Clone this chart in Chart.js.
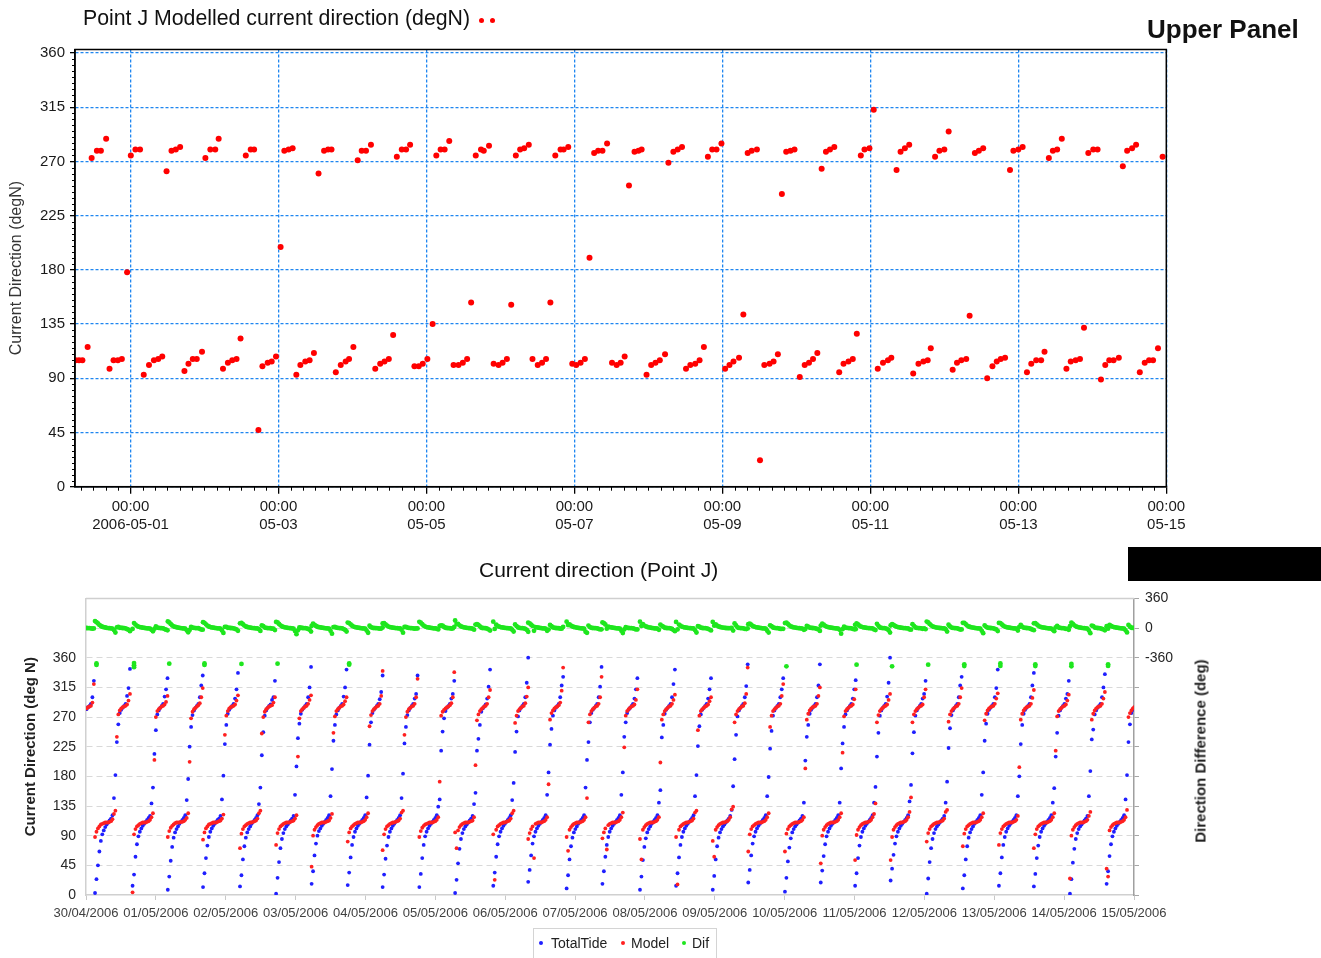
<!DOCTYPE html>
<html>
<head>
<meta charset="utf-8">
<title>Point J current direction</title>
<script src="https://cdn.jsdelivr.net/npm/chart.js@4.4.0/dist/chart.umd.min.js"></script>
<style>
  html, body { margin: 0; padding: 0; background: #fff; }
  body { width: 1321px; height: 958px; position: relative; overflow: hidden;
         font-family: "Liberation Sans", Arial, sans-serif; }
  canvas { position: absolute; }
  .txt { position: absolute; white-space: nowrap; color: #111; }
  .dot { position: absolute; border-radius: 50%; }
</style>
</head>
<body>

<canvas id="upperChart" width="1200" height="545" style="left:0;top:0"></canvas>
<canvas id="lowerChart" width="1321" height="378" style="left:0;top:580px"></canvas>

<div class="txt" style="left:83px;top:6px;font-size:21.3px;line-height:24px">Point J Modelled current direction (degN)</div>
<span class="dot" style="left:479px;top:18px;width:5px;height:5px;background:#f00"></span>
<span class="dot" style="left:490px;top:18px;width:5px;height:5px;background:#f00"></span>
<div class="txt" style="left:1147px;top:14px;font-size:26px;line-height:30px;font-weight:bold">Upper Panel</div>

<div class="txt" style="left:479px;top:558px;font-size:21px;line-height:24px">Current direction (Point J)</div>
<div style="position:absolute;left:1128px;top:547px;width:193px;height:34px;background:#000"></div>

<div class="txt" style="left:1200px;top:751px;font-size:15px;font-weight:bold;color:#222;transform:translate(-50%,-50%) rotate(-90deg)">Direction Difference (deg)</div>

<div style="position:absolute;left:533px;top:928px;width:182px;height:40px;border:1px solid #d4d4d4;font-size:14px;color:#222">
  <span class="dot" style="left:5px;top:12px;width:4px;height:4px;background:#1f1fff"></span>
  <span class="txt" style="left:17px;top:4px;line-height:20px;color:#222">TotalTide</span>
  <span class="dot" style="left:87px;top:12px;width:4px;height:4px;background:#ff2020"></span>
  <span class="txt" style="left:97px;top:4px;line-height:20px;color:#222">Model</span>
  <span class="dot" style="left:148px;top:12px;width:4px;height:4px;background:#1ee61e"></span>
  <span class="txt" style="left:158px;top:4px;line-height:20px;color:#222">Dif</span>
</div>

<script>
// ---------- upper panel: hours from 2006-05-01 00:00 ----------
const upperTickHours = [0, 48, 96, 144, 192, 240, 288, 336];
const upperTickDates = ['2006-05-01', '05-03', '05-05', '05-07', '05-09', '05-11', '05-13', '05-15'];
const upperDirTicks = [0, 45, 90, 135, 180, 225, 270, 315, 360];

// points in the 270-290 band (and the odd ones around it)
const upperHighHours = [
  -12.6, -10.9, -9.6, -7.9, -1.1, 0.1, 1.6, 3.1,
  11.7, 13.3, 14.7, 16.1, 24.3, 25.9, 27.5, 28.6,
  37.4, 39.0, 40.1, 48.7, 49.9, 51.3, 52.6,
  61.0, 62.8, 64.1, 65.2, 73.7, 75.0, 76.4, 78.0,
  86.4, 88.0, 89.4, 90.7, 99.2, 100.6, 101.9, 103.4,
  112.0, 113.7, 114.6, 116.3, 125.0, 126.4, 127.7, 129.2,
  137.8, 139.5, 140.5, 142.0, 148.9, 150.4, 151.7, 153.1, 154.6,
  161.7, 163.5, 164.8, 165.8, 174.5, 176.1, 177.5, 178.9,
  187.3, 188.7, 190.1, 191.7, 200.2, 201.5, 203.2,
  211.3, 212.7, 214.1, 215.4, 224.2, 225.6, 226.9, 228.3,
  236.9, 238.1, 239.7, 241.1, 248.5, 249.8, 251.2, 252.6,
  261.0, 262.4, 264.0, 265.4, 273.9, 275.2, 276.6,
  285.3, 286.4, 288.0, 289.4, 297.9, 299.2, 300.6, 302.1,
  310.7, 312.3, 313.7, 321.9, 323.3, 324.9, 326.2, 334.8
];
const upperHighDir = [
  273, 279, 279, 289, 178, 275, 280, 280,
  262, 279, 280, 282, 273, 280, 280, 289,
  275, 280, 280, 199, 279, 280, 281,
  260, 279, 280, 280, 271, 279, 279, 284,
  274, 280, 280, 284, 275, 280, 280, 287,
  275, 280, 279, 283, 275, 280, 281, 284,
  275, 280, 280, 282, 190, 277, 279, 279, 285,
  250, 278, 279, 280, 269, 278, 280, 282,
  274, 280, 280, 285, 277, 279, 280,
  243, 278, 279, 280, 264, 278, 280, 282,
  275, 280, 281, 313, 263, 278, 281, 284,
  274, 279, 280, 295, 277, 279, 281,
  263, 279, 280, 282, 273, 279, 280, 289,
  277, 280, 280, 266, 279, 281, 284, 274
];

// points in the 90-115 band (and the odd ones around it)
const upperLowHours = [
  -17.8, -16.7, -15.6, -13.9, -6.8, -5.5, -4.1, -2.8,
  4.3, 6.0, 7.6, 9.0, 10.3, 17.5, 18.8, 20.2, 21.5, 23.2,
  30.0, 31.6, 33.0, 34.4, 35.7, 41.5, 42.8, 44.5, 45.8, 47.2,
  53.8, 55.1, 56.7, 58.1, 59.5, 66.6, 68.2, 69.8, 70.9, 72.3,
  79.4, 81.0, 82.4, 83.8, 85.2, 92.1, 93.5, 94.8, 96.3, 98.0,
  104.8, 106.4, 107.8, 109.2, 110.5, 117.8, 119.4, 120.7, 122.1, 123.5,
  130.4, 132.1, 133.5, 134.8, 136.2, 143.3, 144.6, 146.0, 147.4,
  156.2, 157.7, 159.0, 160.3, 167.4, 168.9, 170.3, 171.7, 173.4,
  180.2, 181.6, 183.2, 184.6, 186.0, 192.9, 194.3, 195.6, 197.4, 198.8,
  204.2, 205.6, 207.3, 208.6, 210.0, 217.1, 218.7, 220.1, 221.4, 222.8,
  229.9, 231.3, 232.9, 234.3, 235.6, 242.4, 244.1, 245.7, 246.8,
  253.9, 255.6, 257.2, 258.6, 259.6, 266.7, 268.1, 269.5, 271.1, 272.2,
  277.9, 279.6, 281.0, 282.3, 283.7, 290.8, 292.2, 293.8, 295.4, 296.5,
  303.6, 305.0, 306.6, 308.0, 309.3, 314.8, 316.2, 317.5, 318.9, 320.6,
  327.4, 329.0, 330.4, 331.7, 333.3
];
const upperLowDir = [
  105, 105, 105, 116, 98, 105, 105, 106,
  93, 101, 105, 106, 108, 96, 102, 106, 106, 112,
  98, 103, 105, 106, 123, 47, 100, 103, 104, 108,
  93, 101, 104, 105, 111, 95, 101, 104, 106, 116,
  98, 102, 104, 106, 126, 100, 100, 102, 106, 135,
  101, 101, 103, 106, 153, 102, 101, 103, 106, 151,
  106, 101, 103, 106, 153, 102, 101, 103, 106,
  103, 101, 103, 108, 93, 101, 103, 105, 110,
  98, 101, 102, 105, 116, 98, 101, 104, 107, 143,
  22, 101, 102, 104, 110, 91, 101, 103, 106, 111,
  95, 102, 104, 106, 127, 98, 103, 105, 107,
  94, 102, 104, 105, 115, 97, 103, 105, 106, 142,
  90, 100, 104, 106, 107, 95, 102, 105, 105, 112,
  98, 104, 105, 106, 132, 89, 101, 105, 105, 107,
  95, 103, 105, 105, 115
];

// ---------- lower panel: hours from 2006-04-30 00:00, 30 min samples per tidal cycle ----------
const lowerDayLabels = ['30/04/2006', '01/05/2006', '02/05/2006', '03/05/2006', '04/05/2006', '05/05/2006',
  '06/05/2006', '07/05/2006', '08/05/2006', '09/05/2006', '10/05/2006', '11/05/2006', '12/05/2006',
  '13/05/2006', '14/05/2006', '15/05/2006'];
const lowerDirTicks = [0, 45, 90, 135, 180, 225, 270, 315, 360, 405, 450];
const lowerDifTicks = [-3240, -2880, -2520, -2160, -1800, -1440, -1080, -720, -360, 0, 360];
const lowerSampleStep = 0.5;
const lowerCycleStart = [-9.3, 3.1, 16.0, 28.1, 40.2, 52.9, 65.3, 77.5, 89.9, 101.9, 114.5, 126.8, 139.9, 151.9,
  165.1, 177.4, 190.3, 202.7, 215.3, 227.5, 240.1, 252.4, 264.2, 276.4, 288.8, 301.2, 313.6, 325.6, 338.0, 350.6];

const _ = null;
const totalTide = [
  [_, _, _, _, _, _, _, _, _, _, _, _, _, _, _, _, _, _, _, 282, 285, 287, 290, 300, 325],
  [3, 24, 45, 66, 82, 92, 98, 103, 107, 110, 113, 116, 121, 147, 182, 232, 259, 276, 281, 284, 287, 290, 302, 314, 343],
  [14, 31, 58, 77, 89, 96, 101, 105, 108, 111, 114, 117, 120, 139, 163, 214, 250, 274, 280, 284, 287, 290, 301, 312, 329],
  [8, 28, 52, 73, 87, 95, 100, 104, 108, 111, 114, 117, 121, 144, 176, 225, 255, 273, 280, 284, 287, 290, 300, 318, 333],
  [12, 33, 56, 75, 88, 96, 101, 105, 108, 111, 114, 116, 120, 145, 181, 229, 258, 275, 281, 284, 287, 290, 298, 312, 337],
  [13, 30, 54, 74, 87, 95, 100, 104, 108, 111, 114, 117, 121, 138, 163, 212, 247, 272, 280, 284, 287, 289, 296, 300, 325],
  [2, 26, 50, 71, 85, 94, 100, 104, 107, 110, 113, 116, 120, 152, 195, 238, 260, 275, 281, 284, 287, 290, 300, 315, 346],
  [17, 36, 60, 78, 90, 97, 101, 105, 108, 111, 114, 117, 121, 150, 191, 234, 258, 274, 280, 284, 287, 290, 301, 315, 342],
  [15, 34, 57, 76, 88, 96, 101, 105, 108, 111, 114, 117, 121, 148, 181, 228, 262, 276, 281, 284, 287, 290, 297, 308, 333],
  [12, 31, 55, 75, 88, 96, 101, 105, 108, 111, 114, 117, 121, 147, 184, 230, 255, 273, 280, 284, 287, 290, 298, 305, 333],
  [12, 32, 56, 76, 89, 96, 101, 105, 108, 111, 114, 117, 121, 134, 145, 219, 248, 268, 279, 284, 287, 290, 298, 305, 325],
  [3, 23, 48, 70, 85, 94, 100, 104, 107, 110, 113, 116, 120, 138, 155, 219, 237, 258, 278, 283, 286, 289, 298, 316, 342],
  [14, 34, 58, 77, 89, 96, 101, 105, 108, 111, 114, 117, 121, 144, 170, 217, 248, 271, 280, 284, 287, 290, 300, 322, 360],
  [20, 38, 60, 78, 89, 96, 101, 105, 108, 111, 114, 117, 121, 152, 186, 228, 252, 272, 280, 284, 287, 290, 300, 318, 331],
  [10, 30, 54, 74, 87, 95, 100, 104, 108, 111, 114, 117, 121, 163, 205, 232, 262, 276, 281, 284, 287, 290, 300, 316, 346],
  [17, 36, 58, 76, 88, 96, 101, 105, 108, 111, 114, 117, 121, 152, 186, 240, 262, 276, 281, 284, 287, 290, 298, 312, 329],
  [8, 28, 53, 73, 86, 95, 100, 104, 108, 111, 114, 117, 121, 140, 159, 239, 258, 275, 281, 284, 287, 290, 300, 320, 342],
  [14, 33, 57, 76, 88, 96, 101, 105, 108, 111, 114, 117, 121, 150, 182, 226, 256, 274, 281, 284, 287, 290, 298, 312, 329],
  [8, 29, 54, 74, 87, 95, 100, 104, 107, 110, 113, 116, 120, 129, 165, 206, 243, 271, 280, 284, 287, 290, 300, 317, 350],
  [19, 38, 60, 78, 89, 96, 101, 105, 108, 111, 114, 117, 121, 150, 179, 222, 249, 272, 280, 284, 287, 290, 300, 312, 329],
  [5, 26, 51, 72, 86, 95, 100, 104, 107, 110, 113, 116, 120, 140, 204, 240, 258, 275, 281, 284, 287, 290, 300, 318, 350],
  [19, 37, 59, 77, 89, 96, 101, 105, 108, 111, 114, 117, 121, 140, 192, 230, 255, 274, 280, 284, 287, 290, 298, 312, 326],
  [14, 33, 56, 75, 88, 96, 101, 105, 108, 111, 114, 117, 121, 140, 164, 210, 246, 272, 280, 284, 287, 290, 301, 322, 360],
  [22, 40, 61, 78, 89, 96, 101, 105, 108, 111, 114, 117, 121, 142, 167, 215, 247, 272, 280, 284, 287, 290, 298, 305, 325],
  [2, 25, 50, 71, 85, 94, 100, 104, 107, 110, 113, 116, 120, 140, 172, 223, 253, 273, 280, 284, 287, 290, 300, 318, 331],
  [10, 30, 54, 74, 87, 95, 100, 104, 108, 111, 114, 117, 121, 152, 186, 234, 260, 275, 281, 284, 287, 290, 300, 314, 342],
  [14, 33, 57, 76, 88, 96, 101, 105, 108, 111, 114, 117, 121, 150, 180, 229, 258, 275, 281, 284, 287, 290, 300, 318, 337],
  [13, 32, 56, 75, 88, 96, 101, 105, 108, 111, 114, 117, 121, 140, 162, 210, 246, 272, 280, 284, 287, 290, 298, 305, 325],
  [2, 24, 49, 70, 85, 94, 100, 104, 107, 110, 113, 116, 120, 150, 188, 236, 251, 274, 280, 284, 287, 290, 300, 315, 335],
  [17, 36, 59, 77, 89, 96, 101, 105, 108, 111, 114, 117, 121, 145, 182, 232, 259, 276, 281, 284, 287, 290, 300, 315, 335]
];
const model = [
  [_, _, _, _, _, _, _, _, _, _, _, _, _, _, _, _, _, _, _, 283, 285, 286, 287, 292, 320],
  [88, 96, 101, 104, 107, 108, 109, 110, 110, 110, 111, 112, 115, 123, 128, 240, 274, 280, 283, 285, 286, 287, 289, 295, 305],
  [4, 92, 100, 104, 106, 108, 109, 110, 110, 110, 111, 112, 114, 118, 124, 205, 270, 279, 282, 284, 286, 287, 289, 293, 302],
  [88, 97, 102, 105, 107, 109, 110, 110, 110, 111, 111, 112, 114, 117, 124, 202, 268, 278, 282, 284, 286, 288, 291, 300, 314],
  [84, 95, 101, 104, 107, 108, 109, 110, 110, 110, 111, 112, 113, 116, 122, 243, 272, 279, 283, 285, 286, 287, 289, 295, 303],
  [71, 93, 100, 104, 106, 108, 109, 110, 110, 111, 112, 113, 116, 124, 128, 245, 270, 278, 282, 284, 286, 287, 288, 292, 300],
  [76, 94, 100, 104, 106, 108, 109, 110, 110, 110, 111, 112, 113, 116, 121, 210, 268, 279, 282, 284, 286, 287, 290, 296, 303],
  [43, 90, 99, 103, 106, 108, 109, 110, 110, 110, 111, 112, 113, 117, 123, 246, 271, 279, 282, 284, 286, 287, 289, 294, 300],
  [81, 95, 101, 104, 106, 108, 109, 110, 110, 110, 111, 112, 114, 118, 124, 256, 273, 279, 282, 284, 286, 287, 290, 302, 340],
  [68, 92, 100, 104, 106, 108, 109, 110, 110, 111, 112, 113, 116, 125, 128, 243, 270, 278, 282, 284, 286, 287, 290, 300, 328],
  [88, 97, 102, 105, 107, 108, 109, 110, 110, 110, 111, 112, 114, 118, 172, 272, 278, 281, 283, 285, 286, 288, 291, 300, 338],
  [95, 71, 98, 103, 106, 108, 109, 110, 110, 110, 111, 112, 113, 118, 197, 265, 274, 279, 282, 284, 286, 287, 290, 300, 311],
  [92, 23, 99, 104, 106, 108, 109, 110, 110, 111, 112, 113, 116, 124, 128, 261, 272, 279, 282, 284, 286, 287, 291, 301, 315],
  [85, 94, 100, 104, 56, 108, 109, 110, 110, 110, 111, 112, 114, 118, 168, 266, 276, 280, 283, 285, 286, 288, 292, 310, 345],
  [88, 67, 99, 103, 106, 108, 109, 110, 110, 110, 111, 112, 114, 118, 147, 262, 274, 279, 282, 284, 286, 287, 290, 300, 331],
  [86, 95, 101, 69, 106, 108, 109, 110, 110, 110, 111, 112, 114, 118, 125, 224, 272, 279, 282, 284, 286, 287, 289, 296, 312],
  [85, 54, 99, 103, 106, 108, 109, 110, 110, 110, 111, 112, 114, 118, 201, 266, 274, 279, 282, 284, 286, 287, 290, 296, 304],
  [88, 16, 99, 104, 106, 108, 109, 110, 110, 111, 112, 113, 116, 125, 128, 250, 272, 279, 282, 284, 286, 287, 289, 294, 300],
  [82, 58, 99, 103, 106, 108, 109, 110, 110, 111, 112, 114, 118, 130, 134, 262, 274, 279, 282, 284, 286, 287, 291, 305, 345],
  [66, 92, 100, 104, 106, 108, 109, 110, 110, 110, 111, 112, 114, 118, 124, 255, 272, 279, 282, 284, 286, 287, 290, 302, 320],
  [66, 93, 100, 104, 106, 108, 109, 110, 110, 110, 111, 112, 114, 118, 192, 266, 275, 280, 283, 285, 286, 287, 290, 302, 315],
  [48, 90, 99, 103, 106, 108, 109, 110, 110, 110, 111, 112, 114, 118, 124, 216, 271, 279, 282, 284, 286, 287, 289, 297, 312],
  [53, 91, 99, 103, 106, 108, 109, 110, 110, 111, 112, 114, 118, 123, 139, 262, 273, 279, 282, 284, 286, 287, 289, 296, 305],
  [53, 88, 99, 103, 106, 108, 109, 110, 110, 111, 112, 114, 118, 126, 148, 262, 274, 279, 282, 284, 286, 287, 289, 300, 312],
  [81, 94, 100, 104, 106, 108, 109, 110, 110, 111, 112, 113, 116, 126, 129, 263, 274, 279, 282, 284, 286, 287, 290, 300, 314],
  [74, 93, 100, 104, 106, 108, 109, 110, 110, 110, 111, 112, 114, 118, 124, 265, 275, 280, 283, 285, 286, 287, 290, 298, 306],
  [76, 94, 100, 104, 106, 108, 109, 110, 110, 110, 111, 112, 114, 120, 194, 266, 275, 280, 283, 285, 286, 287, 290, 299, 311],
  [71, 92, 100, 104, 106, 108, 109, 110, 110, 110, 111, 112, 114, 118, 124, 219, 271, 279, 282, 284, 286, 287, 289, 295, 304],
  [25, 90, 99, 103, 106, 108, 109, 110, 110, 110, 111, 112, 114, 120, 126, 266, 275, 280, 283, 285, 286, 287, 290, 298, 308],
  [40, 28, 98, 103, 106, 108, 109, 110, 110, 110, 111, 112, 114, 118, 129, 270, 276, 280, 283, 285, 286, 287, 290, 298, 306]
];
const dif = [
  [_, _, _, _, _, _, _, _, _, _, _, _, _, _, _, _, _, _, _, 1, 0, -1, -3, -7, -5],
  [85, 72, 56, 38, 25, 16, 11, 7, 3, 0, -2, -4, -6, -24, -54, 8, 15, 4, 2, 1, -1, -3, -13, -19, -38],
  [-10, 61, 42, 27, 17, 12, 8, 5, 2, -1, -3, -5, -6, -21, -39, -9, 20, 5, 2, 0, -1, -3, -12, -19, -27],
  [80, 69, 50, 32, 20, 14, 10, 6, 2, 0, -3, -5, -7, -27, -52, -23, 13, 5, 2, 0, -1, -2, -9, -18, -19],
  [72, 62, 45, 29, 19, 12, 8, 5, 2, -1, -3, -4, -7, -29, -59, 14, 14, 4, 2, 1, -1, -3, -9, -17, -34],
  [58, 63, 46, 30, 19, 13, 9, 6, 2, 0, -2, -4, -5, -14, -35, 33, 23, 6, 2, 0, -1, -2, -8, -8, -25],
  [74, 68, 50, 33, 21, 14, 9, 6, 3, 0, -2, -4, -7, -36, -74, -28, 8, 4, 1, 0, -1, -3, -10, -19, -43],
  [26, 54, 39, 25, 16, 11, 8, 5, 2, -1, -3, -5, -8, -33, -68, 12, 13, 5, 2, 0, -1, -3, -12, -21, -42],
  [66, 61, 44, 28, 18, 12, 8, 5, 2, -1, -3, -5, -7, -30, -57, 28, 11, 3, 1, 0, -1, -3, -7, -6, 7],
  [56, 61, 45, 29, 18, 12, 8, 5, 2, 0, -2, -4, -5, -22, -56, 13, 15, 5, 2, 0, -1, -3, -8, -5, -5],
  [76, 65, 46, 29, 18, 12, 8, 5, 2, -1, -3, -5, -7, -16, 27, 31, 30, 13, 4, 1, -1, -2, -7, -5, 13],
  [92, 48, 50, 33, 21, 14, 9, 6, 3, 0, -2, -4, -7, -20, 42, 46, 37, 21, 4, 1, 0, -2, -8, -16, -31],
  [78, -11, 41, 27, 17, 12, 8, 5, 2, 0, -2, -4, -5, -20, -42, 44, 24, 8, 2, 0, -1, -3, -9, -21, -45],
  [65, 56, 40, 26, -33, 12, 8, 5, 2, -1, -3, -5, -7, -34, -18, 38, 24, 8, 3, 1, -1, -2, -8, -8, 14],
  [78, 37, 45, 29, 19, 13, 9, 6, 2, -1, -3, -5, -7, -45, -58, 30, 12, 3, 1, 0, -1, -3, -10, -16, -15],
  [69, 59, 43, -7, 18, 12, 8, 5, 2, -1, -3, -5, -7, -34, -61, -16, 10, 3, 1, 0, -1, -3, -9, -16, -17],
  [77, 26, 46, 30, 20, 13, 9, 6, 2, -1, -3, -5, -7, -22, 42, 27, 16, 4, 1, 0, -1, -3, -10, -24, -38],
  [74, -17, 42, 28, 18, 12, 8, 5, 2, 0, -2, -4, -5, -25, -54, 24, 16, 5, 1, 0, -1, -3, -9, -18, -29],
  [74, 29, 45, 29, 19, 13, 9, 6, 3, 1, -1, -2, -2, 1, -31, 56, 31, 8, 2, 0, -1, -3, -9, -12, -5],
  [47, 54, 40, 26, 17, 12, 8, 5, 2, -1, -3, -5, -7, -32, -55, 33, 23, 7, 2, 0, -1, -3, -10, -10, -9],
  [61, 67, 49, 32, 20, 13, 9, 6, 3, 0, -2, -4, -6, -22, -12, 26, 17, 5, 2, 1, -1, -3, -10, -16, -35],
  [29, 53, 40, 26, 17, 12, 8, 5, 2, -1, -3, -5, -7, -22, -68, -14, 16, 5, 2, 0, -1, -3, -9, -15, -14],
  [39, 58, 43, 28, 18, 12, 8, 5, 2, 0, -2, -3, -3, -17, -25, 52, 27, 7, 2, 0, -1, -3, -12, -26, -55],
  [31, 48, 38, 25, 17, 12, 8, 5, 2, 0, -2, -3, -3, -16, -19, 47, 27, 7, 2, 0, -1, -3, -9, -5, -13],
  [79, 69, 50, 33, 21, 14, 9, 6, 3, 1, -1, -3, -4, -14, -43, 40, 21, 6, 2, 0, -1, -3, -10, -18, -17],
  [64, 63, 46, 30, 19, 13, 9, 6, 2, -1, -3, -5, -7, -34, -62, 31, 15, 5, 2, 1, -1, -3, -10, -16, -36],
  [62, 61, 43, 28, 18, 12, 8, 5, 2, -1, -3, -5, -7, -30, 14, 37, 17, 5, 2, 1, -1, -3, -10, -19, -26],
  [58, 60, 44, 29, 18, 12, 8, 5, 2, -1, -3, -5, -7, -22, -38, 9, 25, 7, 2, 0, -1, -3, -9, -10, -21],
  [23, 66, 50, 33, 21, 14, 9, 6, 3, 0, -2, -4, -6, -30, -62, 30, 24, 6, 3, 1, -1, -3, -10, -17, -27],
  [23, -8, 39, 26, 17, 12, 8, 5, 2, -1, -3, -5, -7, -27, -53, 38, 17, 4, 2, 1, -1, -3, -10, -17, -29]
];
// the wrapped Dif values sitting just under -360 at the turn of the tide
const difWrapHours = [3.6, 3.6, 16.5, 16.5, 16.5, 28.6, 40.7, 40.7, 53.4, 65.8, 90.4, 90.4, 240.6, 264.7,
  276.9, 289.3, 301.7, 301.7, 314.1, 314.1, 326.1, 326.1, 338.5, 338.5, 351.1, 351.1];
const difWrapValues = [-430, -448, -425, -450, -475, -432, -430, -448, -435, -432, -430, -445, -465, -445,
  -465, -445, -440, -462, -430, -460, -440, -462, -435, -465, -440, -460];

Chart.defaults.font.family = '"Liberation Sans", Arial, sans-serif';
Chart.defaults.color = '#1a1a1a';

function pairPoints(hours, values) {
  return hours.map((h, i) => ({ x: h, y: values[i] }));
}

function cyclePoints(byCycle) {
  const pts = [];
  byCycle.forEach((vals, c) => {
    vals.forEach((v, k) => {
      if (v !== null) pts.push({ x: lowerCycleStart[c] + k * lowerSampleStep, y: v });
    });
  });
  return pts;
}

// frame + minor ticks for the upper panel
const upperFrame = {
  id: 'upperFrame',
  afterDraw(chart) {
    const { ctx, chartArea: a, scales: { x, y } } = chart;
    ctx.save();
    ctx.strokeStyle = '#000';
    ctx.lineWidth = 1.5;
    ctx.strokeRect(a.left, a.top, a.right - a.left, a.bottom - a.top);
    ctx.lineWidth = 1;
    ctx.beginPath();
    for (let h = -16; h < 336; h += 4) {
      if (h % 48 === 0) continue;
      const px = Math.round(x.getPixelForValue(h)) + 0.5;
      ctx.moveTo(px, a.bottom);
      ctx.lineTo(px, a.bottom + 4);
    }
    for (let d = 5; d < 363; d += 5) {
      if (d % 45 === 0) continue;
      const py = Math.round(y.getPixelForValue(d)) + 0.5;
      ctx.moveTo(a.left - 3, py);
      ctx.lineTo(a.left, py);
    }
    ctx.stroke();
    ctx.restore();
  }
};

const upperChart = new Chart(document.getElementById('upperChart'), {
  type: 'scatter',
  data: {
    datasets: [{
      label: 'Point J Modelled current direction (degN)',
      data: pairPoints(upperHighHours, upperHighDir).concat(pairPoints(upperLowHours, upperLowDir)),
      backgroundColor: '#ff0000',
      borderWidth: 0,
      pointRadius: 3
    }]
  },
  options: {
    responsive: false,
    animation: false,
    events: [],
    layout: { padding: { left: 0, top: 49.5, right: 33.7, bottom: 0 } },
    plugins: { legend: { display: false }, tooltip: { enabled: false } },
    scales: {
      x: {
        type: 'linear', min: -18, max: 336,
        afterBuildTicks: s => { s.ticks = upperTickHours.map(v => ({ value: v })); },
        afterFit: s => { s.height = 58.3; },
        ticks: {
          autoSkip: false, maxRotation: 0, padding: 4,
          font: { size: 15 }, color: '#1a1a1a',
          callback: v => ['00:00', upperTickDates[upperTickHours.indexOf(v)]]
        },
        grid: { color: '#1f86f0', lineWidth: 1.3, tickLength: 7, tickColor: '#000' },
        border: { color: '#000', width: 1.5, dash: [3, 2] }
      },
      y: {
        type: 'linear', min: 0, max: 363,
        afterBuildTicks: s => { s.ticks = upperDirTicks.map(v => ({ value: v })); },
        afterFit: s => { s.width = 75; },
        ticks: { padding: 5, font: { size: 15 }, color: '#1a1a1a' },
        grid: { color: '#1f86f0', lineWidth: 1.3, tickLength: 5, tickColor: '#000' },
        border: { color: '#000', width: 1.5, dash: [3, 2] },
        title: {
          display: true, text: 'Current Direction (degN)',
          font: { size: 16 }, color: '#333', padding: { top: 7, bottom: 0 }
        }
      }
    }
  },
  plugins: [upperFrame]
});

// thin grey top border of the lower plot
const lowerFrame = {
  id: 'lowerFrame',
  afterDraw(chart) {
    const { ctx, chartArea: a } = chart;
    ctx.save();
    ctx.strokeStyle = '#cfcfcf';
    ctx.lineWidth = 1.5;
    ctx.beginPath();
    ctx.moveTo(a.left, a.top);
    ctx.lineTo(a.right, a.top);
    ctx.stroke();
    ctx.restore();
  }
};

const lowerChart = new Chart(document.getElementById('lowerChart'), {
  type: 'scatter',
  data: {
    datasets: [
      { label: 'TotalTide', data: cyclePoints(totalTide), backgroundColor: '#1f1fff', borderWidth: 0,
        pointRadius: 1.9, yAxisID: 'y', order: 2 },
      { label: 'Model', data: cyclePoints(model), backgroundColor: '#ff2020', borderWidth: 0,
        pointRadius: 1.9, yAxisID: 'y', order: 1 },
      { label: 'Dif', data: cyclePoints(dif).concat(pairPoints(difWrapHours, difWrapValues)),
        backgroundColor: '#1ee61e', borderWidth: 0, pointRadius: 2.4, yAxisID: 'y2', order: 0 }
    ]
  },
  options: {
    responsive: false,
    animation: false,
    events: [],
    layout: { padding: { left: 0, top: 18.4, right: 0, bottom: 0 } },
    plugins: { legend: { display: false }, tooltip: { enabled: false } },
    scales: {
      x: {
        type: 'linear', min: 0, max: 360,
        afterBuildTicks: s => { s.ticks = lowerDayLabels.map((d, i) => ({ value: i * 24 })); },
        afterFit: s => { s.height = 63; },
        ticks: {
          autoSkip: false, maxRotation: 0, padding: 6,
          font: { size: 13 }, color: '#404040',
          callback: v => lowerDayLabels[Math.round(v / 24)]
        },
        grid: { drawOnChartArea: false, tickLength: 5, tickColor: '#c8c8c8' },
        border: { color: '#d0d0d0', width: 1.5 }
      },
      y: {
        type: 'linear', position: 'left', min: 0, max: 450,
        afterBuildTicks: s => { s.ticks = lowerDirTicks.map(v => ({ value: v })); },
        afterFit: s => { s.width = 86; },
        ticks: { padding: 10, font: { size: 14 }, color: '#262626', callback: v => (v <= 360 ? v : '') },
        grid: {
          drawTicks: false, lineWidth: 1,
          color: ctx => (ctx.tick.value === 0 || ctx.tick.value === 450 ? 'rgba(0,0,0,0)' : '#d9d9d9')
        },
        border: { color: '#d0d0d0', width: 1.5, dash: [6, 4] },
        title: {
          display: true, text: 'Current Direction (deg N)',
          font: { size: 15, weight: 'bold' }, color: '#222', padding: { top: 22, bottom: 0 }
        }
      },
      y2: {
        type: 'linear', position: 'right', min: -3240, max: 360,
        afterBuildTicks: s => { s.ticks = lowerDifTicks.map(v => ({ value: v })); },
        afterFit: s => { s.width = 187; },
        ticks: { padding: 6, font: { size: 14 }, color: '#262626',
          callback: v => (v === 360 || v === 0 || v === -360 ? v : '') },
        grid: { drawOnChartArea: false, tickLength: 5, tickColor: '#a6a6a6' },
        border: { color: '#a0a0a0', width: 1.5 }
      }
    }
  },
  plugins: [lowerFrame]
});
</script>
</body>
</html>
